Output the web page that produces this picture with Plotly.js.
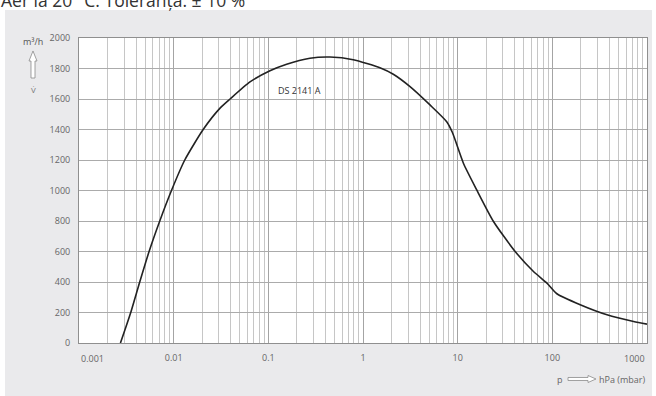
<!DOCTYPE html>
<html>
<head>
<meta charset="utf-8">
<script src="https://cdn.plot.ly/plotly-3.0.1.min.js"></script>
<style>html,body{margin:0;padding:0;background:#fff;}#chart{width:656px;height:396px;}</style>
</head>
<body>
<div id="chart"></div>
<script>
// ---- data ----
const pressure = [0.00274, 0.00352, 0.00438, 0.0055, 0.00713, 0.00948, 0.0131, 0.0205, 0.0309, 0.0394, 0.064, 0.104, 0.156, 0.275, 0.448, 0.789, 1.51, 2.09, 3.14, 5.10, 7.66, 8.8, 11.5, 15.9, 23.9, 40.5, 63.2, 87.7, 111.7, 197, 378, 722, 1000];
const flow = [0, 200, 400, 600, 800, 1000, 1200, 1400, 1540, 1600, 1712, 1785, 1828, 1867, 1875, 1858, 1805, 1762, 1681, 1561, 1451, 1380, 1179, 1004, 797, 600, 469, 393, 323, 251, 185, 141, 124];
const seriesName = "DS 2141 A";
const xTickVals = [0.001, 0.01, 0.1, 1, 10, 100, 1000];
const xTickText = ["0.001", "0.01", "0.1", "1", "10", "100", "1000"];
const yTickVals = [0, 200, 400, 600, 800, 1000, 1200, 1400, 1600, 1800, 2000];
const titleText = "Aer la 20 °C. Toleranța: ± 10 %";
const yUnit = "m³/h";
const ySymbol = "V̇";
const xSymbol = "p";
const xUnit = "hPa (mbar)";

// minor grid positions (2..9 in every decade)
const minorVals = [];
for (let e = -3; e < 3; e++) for (let m = 2; m <= 9; m++) minorVals.push(m * Math.pow(10, e));

// ---- layout helpers ----
const L = 79, R = 647, T = 38, B = 343;
const px = v => (v - L) / (R - L);
const py = v => (B - v) / (B - T);
const pathOf = pts => pts.map((p, i) => (i ? 'L' : 'M') + px(p[0]).toFixed(5) + ',' + py(p[1]).toFixed(5)).join(' ') + ' Z';

const fontFam = '"Open Sans", "Noto Sans", sans-serif';
const tickFont = {family: fontFam, size: 9, color: '#666'};

const trace = {
  x: pressure, y: flow, type: 'scatter', mode: 'lines', name: seriesName,
  line: {color: '#222', width: 1.6, shape: 'spline', smoothing: 0.6},
  hoverinfo: 'x+y'
};

const shownText = xTickText.map((t, i) => (i === 0 || i === xTickText.length - 1) ? '' : t);

const layout = {
  width: 656, height: 396,
  margin: {l: L, r: 656 - R, t: T, b: 396 - B, pad: 0},
  paper_bgcolor: '#ffffff', plot_bgcolor: 'rgba(0,0,0,0)',
  showlegend: false,
  xaxis: {
    type: 'log', range: [-3, 3], tickmode: 'array', tickvals: xTickVals, ticktext: shownText,
    showgrid: true, gridcolor: '#a4a4a4', gridwidth: 1,
    minor: {tickmode: 'array', tickvals: minorVals, showgrid: true, gridcolor: '#c6c6c6', gridwidth: 1, ticks: ''},
    showline: true, mirror: true, linecolor: '#8f8f8f', linewidth: 1,
    zeroline: false, ticks: '', tickfont: tickFont, ticklabelstandoff: 6
  },
  yaxis: {
    range: [0, 2000], tickmode: 'array', tickvals: yTickVals,
    showgrid: true, gridcolor: '#ababab', gridwidth: 1,
    showline: true, mirror: true, linecolor: '#8f8f8f', linewidth: 1,
    zeroline: false, ticks: '', tickfont: tickFont, ticklabelstandoff: 6
  },
  shapes: [
    {type: 'rect', xref: 'paper', yref: 'paper', layer: 'below', x0: px(5), x1: px(652), y0: py(396), y1: py(10), fillcolor: '#eaeaec', line: {width: 0}},
    {type: 'rect', xref: 'paper', yref: 'paper', layer: 'below', x0: 0, x1: 1, y0: 0, y1: 1, fillcolor: '#ffffff', line: {width: 0}},
    {type: 'path', xref: 'paper', yref: 'paper', path: pathOf([[33, 51], [37, 61], [35, 61], [35, 78], [31, 78], [31, 61], [29, 61]]), fillcolor: '#ffffff', line: {color: '#8a8a8a', width: 0.8}},
    {type: 'path', xref: 'paper', yref: 'paper', path: pathOf([[568, 377.5], [588, 377.5], [588, 375.5], [596, 379], [588, 382.5], [588, 380.5], [568, 380.5]]), fillcolor: '#ffffff', line: {color: '#8a8a8a', width: 0.8}}
  ],
  annotations: [
    {xref: 'paper', yref: 'paper', x: px(-1), y: py(0.3), xanchor: 'left', yanchor: 'middle', text: titleText, showarrow: false, font: {family: fontFam, size: 17.5, color: '#333'}},
    {xref: 'paper', yref: 'paper', x: px(32.5), y: py(42), xanchor: 'center', yanchor: 'middle', text: yUnit, showarrow: false, font: {family: fontFam, size: 9, color: '#555'}},
    {xref: 'paper', yref: 'paper', x: px(33), y: py(89), xanchor: 'center', yanchor: 'middle', text: ySymbol, showarrow: false, font: {family: fontFam, size: 8, color: '#777'}},
    {xref: 'paper', yref: 'paper', x: px(559.5), y: py(379), xanchor: 'center', yanchor: 'middle', text: xSymbol, showarrow: false, font: {family: fontFam, size: 9, color: '#666'}},
    {xref: 'paper', yref: 'paper', x: px(597), y: py(379), xanchor: 'left', yanchor: 'middle', text: xUnit, showarrow: false, font: {family: fontFam, size: 9, color: '#666'}},
    {xref: 'paper', yref: 'paper', x: px(299), y: py(91), xanchor: 'center', yanchor: 'middle', text: seriesName, showarrow: false, font: {family: fontFam, size: 9, color: '#333'}},
    {xref: 'x', yref: 'paper', x: Math.log10(xTickVals[0]), y: py(358), xanchor: 'left', yanchor: 'middle', text: xTickText[0], showarrow: false, font: tickFont},
    {xref: 'x', yref: 'paper', x: Math.log10(xTickVals[xTickVals.length - 1]), y: py(358), xanchor: 'right', yanchor: 'middle', text: xTickText[xTickText.length - 1], showarrow: false, font: tickFont}
  ]
};

Plotly.newPlot('chart', [trace], layout, {staticPlot: true, displayModeBar: false});
</script>
</body>
</html>
